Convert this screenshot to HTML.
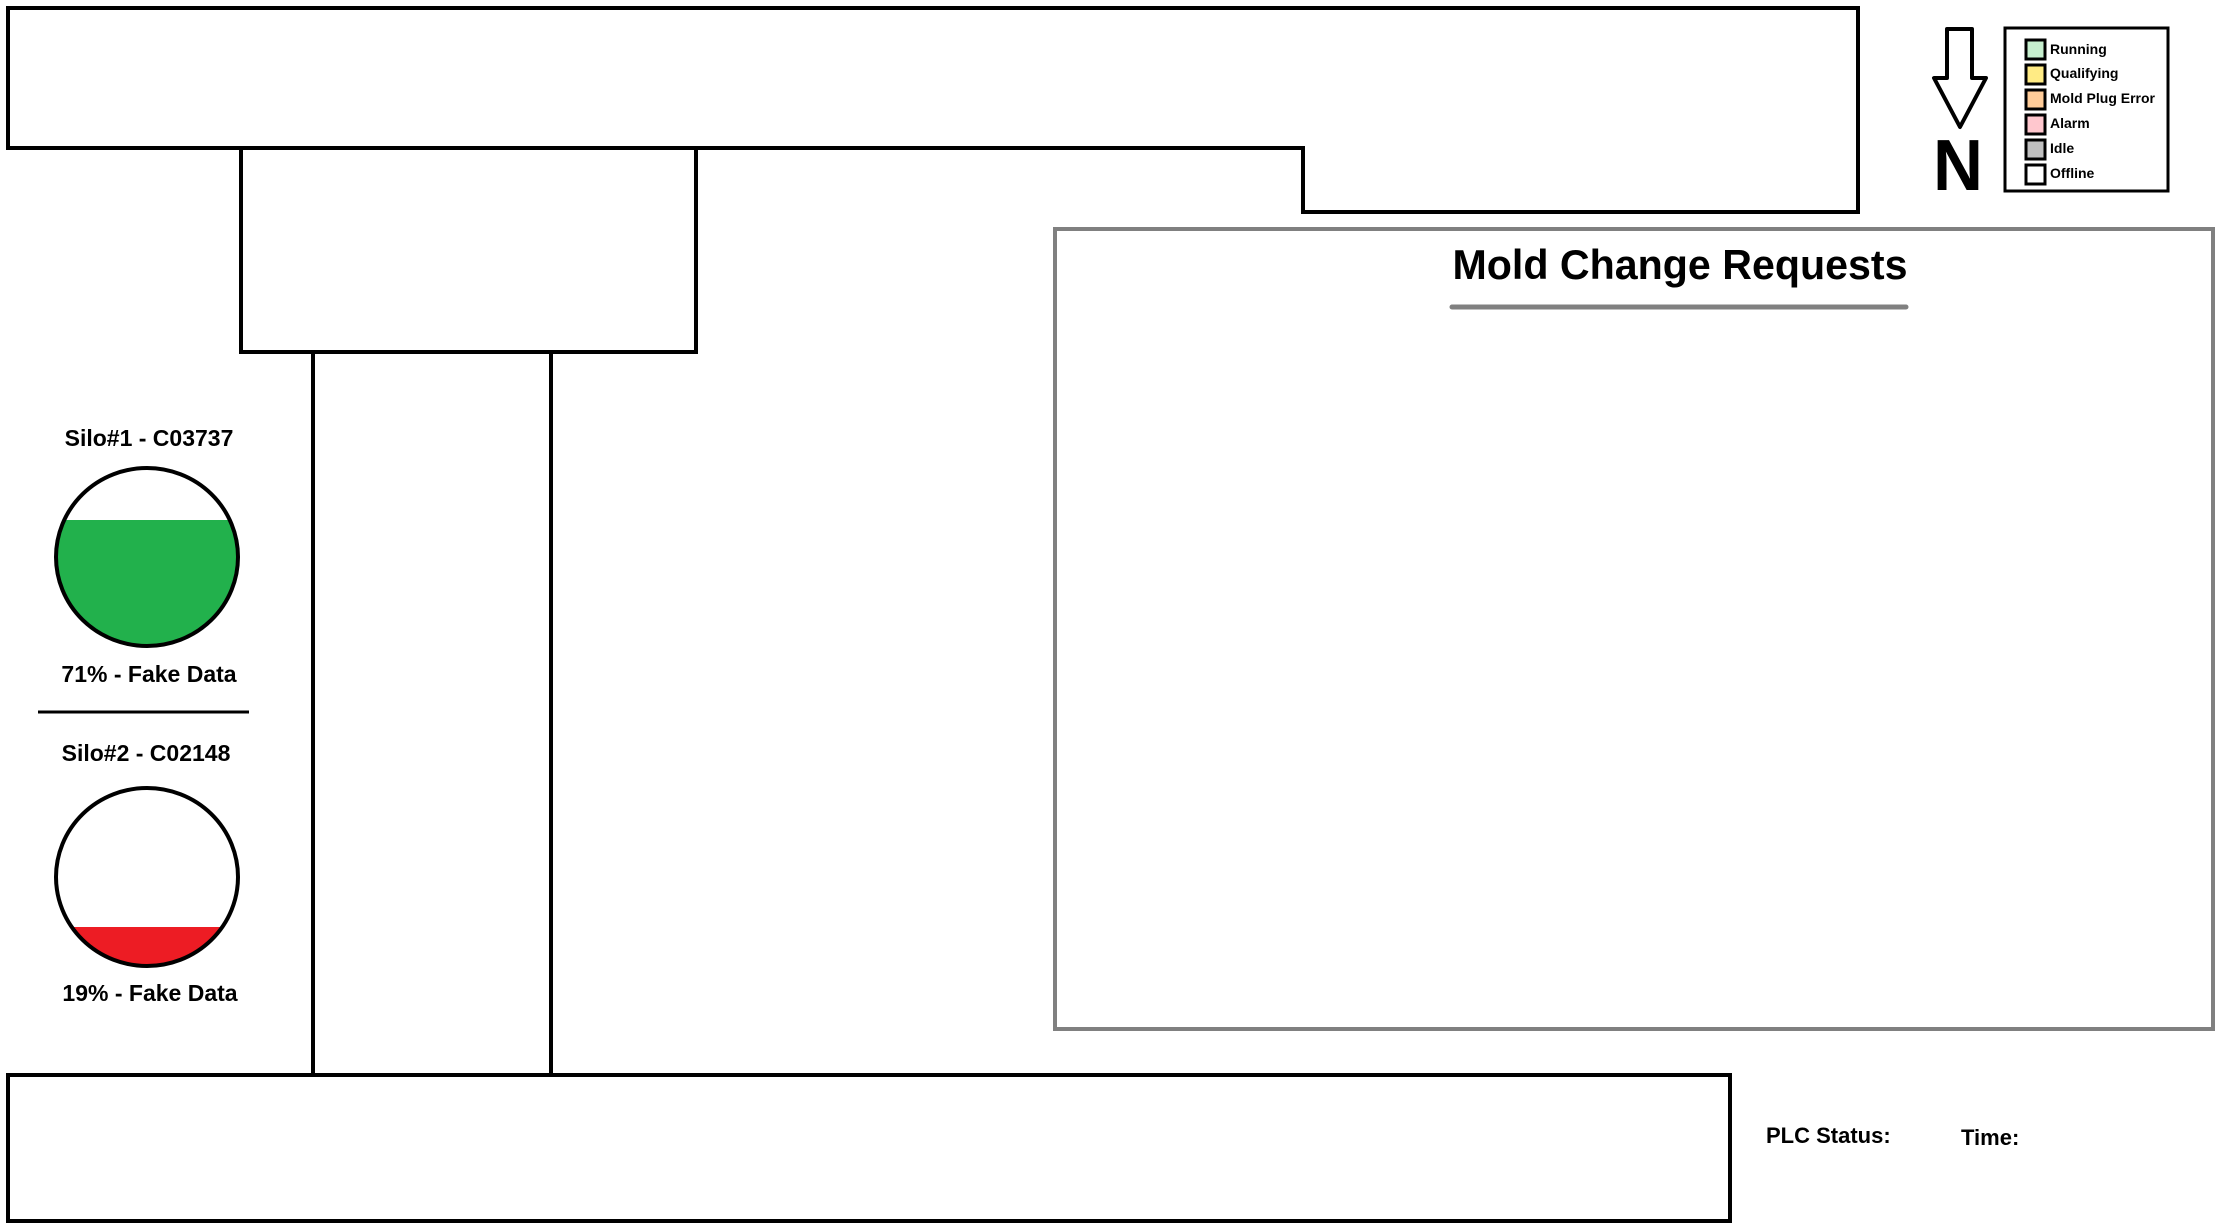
<!DOCTYPE html>
<html><head><meta charset="utf-8"><style>html,body{margin:0;padding:0;background:#fff}svg{display:block}</style></head>
<body>
<svg width="2232" height="1224" viewBox="0 0 2232 1224" xmlns="http://www.w3.org/2000/svg" font-family="Liberation Sans, sans-serif" font-weight="bold">
<rect width="2232" height="1224" fill="#fff"/>
<g fill="none" stroke="#000" stroke-width="4">
<polygon points="8,8 1858,8 1858,212 1303,212 1303,148 8,148"/>
<rect x="241" y="148" width="455" height="204"/>
<line x1="313" y1="352" x2="313" y2="1075"/>
<line x1="551" y1="352" x2="551" y2="1075"/>
<rect x="8" y="1075" width="1722" height="146"/>
</g>
<rect x="1055" y="229" width="1158" height="800" fill="none" stroke="#808080" stroke-width="4"/>
<text x="1680" y="279" font-size="42" text-anchor="middle" textLength="455" lengthAdjust="spacingAndGlyphs">Mold Change Requests</text>
<line x1="1452" y1="307" x2="1906" y2="307" stroke="#808080" stroke-width="5" stroke-linecap="round"/>
<text x="149" y="446" font-size="23" text-anchor="middle">Silo#1 - C03737</text>
<clipPath id="c1"><ellipse cx="147" cy="557" rx="91" ry="89"/></clipPath>
<rect x="50" y="520" width="200" height="130" fill="#22b14c" clip-path="url(#c1)"/>
<ellipse cx="147" cy="557" rx="91" ry="89" fill="none" stroke="#000" stroke-width="4"/>
<text x="149" y="682" font-size="23" text-anchor="middle">71% - Fake Data</text>
<line x1="38" y1="712" x2="249" y2="712" stroke="#000" stroke-width="3"/>
<text x="146" y="761" font-size="23" text-anchor="middle">Silo#2 - C02148</text>
<clipPath id="c2"><ellipse cx="147" cy="877" rx="91" ry="89"/></clipPath>
<rect x="50" y="927" width="200" height="50" fill="#ed1c24" clip-path="url(#c2)"/>
<ellipse cx="147" cy="877" rx="91" ry="89" fill="none" stroke="#000" stroke-width="4"/>
<text x="150" y="1001" font-size="23" text-anchor="middle">19% - Fake Data</text>
<polygon points="1947,29 1972,29 1972,78 1986,78 1960,127 1934,78 1947,78" fill="#fff" stroke="#000" stroke-width="4" stroke-linejoin="round"/>
<text x="1958" y="190" font-size="72" text-anchor="middle" textLength="50" lengthAdjust="spacingAndGlyphs">N</text>
<rect x="2005" y="28" width="163" height="163" fill="#fff" stroke="#000" stroke-width="3"/>
<g stroke="#000" stroke-width="3">
<rect x="2026" y="40" width="19" height="19" fill="#c6efce"/>
<rect x="2026" y="65" width="19" height="19" fill="#ffeb84"/>
<rect x="2026" y="90" width="19" height="19" fill="#ffcc99"/>
<rect x="2026" y="115" width="19" height="19" fill="#ffc7ce"/>
<rect x="2026" y="140" width="19" height="19" fill="#bfbfbf"/>
<rect x="2026" y="165" width="19" height="19" fill="#fff"/>
</g>
<g font-size="14" fill="#000">
<text x="2050" y="54">Running</text>
<text x="2050" y="78">Qualifying</text>
<text x="2050" y="103">Mold Plug Error</text>
<text x="2050" y="128">Alarm</text>
<text x="2050" y="153">Idle</text>
<text x="2050" y="178">Offline</text>
</g>
<text x="1766" y="1143" font-size="22">PLC Status:</text>
<text x="1961" y="1145" font-size="22">Time:</text>
</svg>
</body></html>
